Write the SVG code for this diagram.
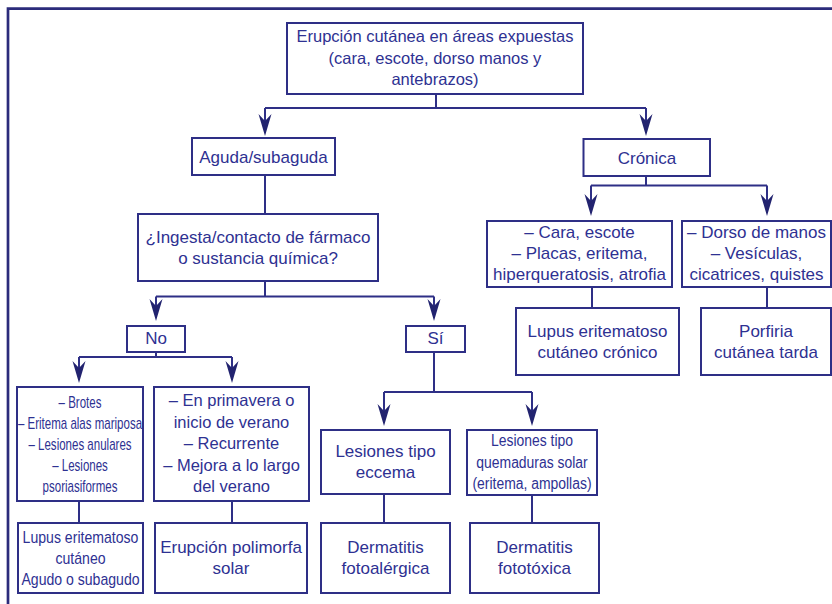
<svg xmlns="http://www.w3.org/2000/svg" xmlns:xlink="http://www.w3.org/1999/xlink" width="832" height="604" viewBox="0 0 832 604">
<style>
.box{fill:#fff;stroke:#2e2f86;stroke-width:2}
.ln{fill:none;stroke:#2e2f86;stroke-width:2}
.ah{fill:#22236f}
text{font-family:"Liberation Sans",Arial,sans-serif;fill:#2e3192;text-anchor:middle}
.t17{font-size:17px}
.t16{font-size:16.5px}
.c16{font-size:16px}
</style>
<defs>
<path id="ah" d="M0,0 L-6.5,-22 L0,-15 L6.5,-22 Z"/>
</defs>
<rect width="832" height="604" fill="#fff"/>
<path d="M8,604 V8.7 H832" fill="none" stroke="#2b2b7b" stroke-width="2.7"/>

<g id="connectors">
<path class="ln" d="M436,94 V108 M265,108 H646 M265,108 V122 M646,108 V122"/>
<use href="#ah" x="265" y="136" class="ah"/>
<use href="#ah" x="646" y="136" class="ah"/>
<path class="ln" d="M265,175 V214"/>
<path class="ln" d="M646,176 V185.5 M591,185.5 H767 M591,185.5 V202 M767,185.5 V202"/>
<use href="#ah" x="591" y="216" class="ah"/>
<use href="#ah" x="767" y="216" class="ah"/>
<path class="ln" d="M265,281 V296.5 M156,296.5 H434 M156,296.5 V307 M434,296.5 V307"/>
<use href="#ah" x="156" y="321" class="ah"/>
<use href="#ah" x="434" y="321" class="ah"/>
<path class="ln" d="M156,352 V357 M79,357 H232 M79,357 V369 M232,357 V369"/>
<use href="#ah" x="79" y="383" class="ah"/>
<use href="#ah" x="232" y="383" class="ah"/>
<path class="ln" d="M434,352 V392 M384,392 H532 M384,392 V412 M532,392 V412"/>
<use href="#ah" x="384" y="426" class="ah"/>
<use href="#ah" x="532" y="426" class="ah"/>
<path class="ln" d="M592,287 V308 M767,287 V308 M79,501 V523 M232,501 V523 M384,494 V523 M532,495 V523"/>
</g>

<g id="n-top">
<rect class="box" x="287" y="23" width="296" height="71"/>
<text class="t16" x="435" y="42">Erupción cutánea en áreas expuestas</text>
<text class="t16" x="435" y="64">(cara, escote, dorso manos y</text>
<text class="t16" x="435" y="85">antebrazos)</text>
</g>
<g id="n-aguda">
<rect class="box" x="192" y="138" width="143" height="37"/>
<text class="t17" x="263.5" y="163">Aguda/subaguda</text>
</g>
<g id="n-cronica">
<rect class="box" x="583.5" y="139" width="126.5" height="37"/>
<text class="t17" x="647" y="164">Crónica</text>
</g>
<g id="n-ingesta">
<rect class="box" x="138" y="214" width="240" height="67"/>
<text class="t17" x="258" y="243">¿Ingesta/contacto de fármaco</text>
<text class="t17" x="258" y="264">o sustancia química?</text>
</g>
<g id="n-no">
<rect class="box" x="127" y="326" width="58" height="26"/>
<text class="t17" x="156" y="344">No</text>
</g>
<g id="n-si">
<rect class="box" x="406" y="326" width="59" height="26"/>
<text class="t17" x="435.5" y="344">Sí</text>
</g>
<g id="n-cara">
<rect class="box" x="487" y="221" width="185" height="66"/>
<text class="t17" x="579.5" y="238">–  Cara, escote</text>
<text class="t17" x="579.5" y="259">– Placas, eritema,</text>
<text class="t17" x="579.5" y="280">hiperqueratosis, atrofia</text>
</g>
<g id="n-dorso">
<rect class="box" x="682" y="221" width="149" height="66"/>
<text class="t17" x="756.5" y="238">– Dorso de manos</text>
<text class="t17" x="756.5" y="259">– Vesículas,</text>
<text class="t17" x="756.5" y="280">cicatrices, quistes</text>
</g>
<g id="n-lupus-cronico">
<rect class="box" x="516" y="308" width="163" height="67"/>
<text class="t17" x="597.5" y="337">Lupus eritematoso</text>
<text class="t17" x="597.5" y="358">cutáneo crónico</text>
</g>
<g id="n-porfiria">
<rect class="box" x="701" y="308" width="130" height="67"/>
<text class="t17" x="766" y="337">Porfiria</text>
<text class="t17" x="766" y="358">cutánea tarda</text>
</g>
<g id="n-brotes">
<rect class="box" x="17" y="387" width="126" height="114"/>
<g transform="translate(80,0) scale(0.72,1)">
<text class="c16" x="0" y="408">– Brotes</text>
<text class="c16" x="0" y="429">– Eritema alas mariposa</text>
<text class="c16" x="0" y="450">– Lesiones anulares</text>
<text class="c16" x="0" y="471">– Lesiones</text>
<text class="c16" x="0" y="492">psoriasiformes</text>
</g>
</g>
<g id="n-primavera">
<rect class="box" x="154" y="387" width="155" height="114"/>
<text class="t16" x="231.5" y="406">– En primavera o</text>
<text class="t16" x="231.5" y="427.5">inicio de verano</text>
<text class="t16" x="231.5" y="449">– Recurrente</text>
<text class="t16" x="231.5" y="470.5">– Mejora a lo largo</text>
<text class="t16" x="231.5" y="492">del verano</text>
</g>
<g id="n-eccema">
<rect class="box" x="321" y="430" width="129" height="64"/>
<text class="t17" x="385.5" y="457">Lesiones tipo</text>
<text class="t17" x="385.5" y="478">eccema</text>
</g>
<g id="n-quemaduras">
<rect class="box" x="467" y="430" width="130" height="65"/>
<g transform="translate(532,0) scale(0.87,1)">
<text class="c16" x="0" y="446">Lesiones tipo</text>
<text class="c16" x="0" y="468">quemaduras solar</text>
<text class="c16" x="0" y="489">(eritema, ampollas)</text>
</g>
</g>
<g id="n-lupus-agudo">
<rect class="box" x="18" y="523" width="125" height="70"/>
<g transform="translate(80.5,0) scale(0.88,1)">
<text class="c16" x="0" y="543">Lupus eritematoso</text>
<text class="c16" x="0" y="564">cutáneo</text>
<text class="c16" x="0" y="585">Agudo o subagudo</text>
</g>
</g>
<g id="n-erupcion">
<rect class="box" x="155" y="523" width="152" height="70"/>
<text class="t17" x="231" y="553">Erupción polimorfa</text>
<text class="t17" x="231" y="574">solar</text>
</g>
<g id="n-fotoalergica">
<rect class="box" x="321" y="523" width="129" height="70"/>
<text class="t17" x="385.5" y="553">Dermatitis</text>
<text class="t17" x="385.5" y="574">fotoalérgica</text>
</g>
<g id="n-fototoxica">
<rect class="box" x="470" y="523" width="129" height="70"/>
<text class="t17" x="534.5" y="553">Dermatitis</text>
<text class="t17" x="534.5" y="574">fototóxica</text>
</g>
</svg>
